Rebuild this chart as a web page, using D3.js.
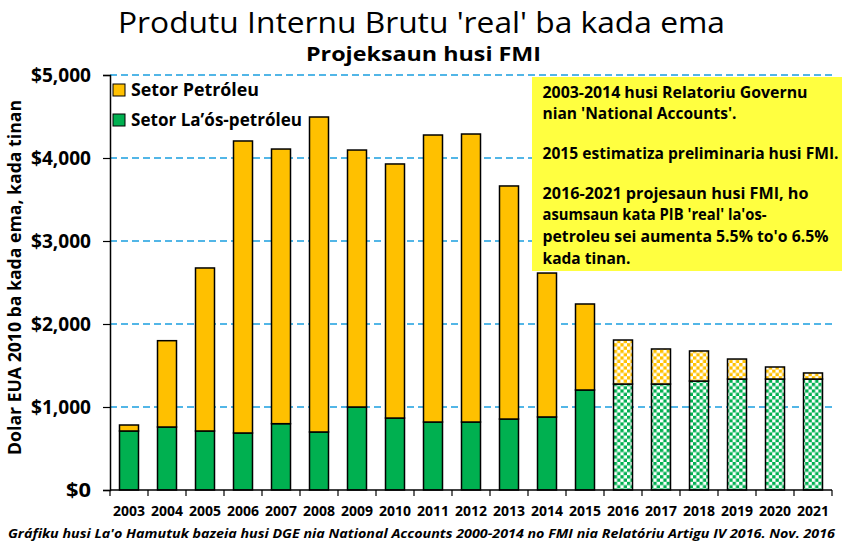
<!DOCTYPE html>
<html>
<head>
<meta charset="utf-8">
<script src="https://cdn.jsdelivr.net/npm/d3@7"></script>
<style>
  body { margin: 0; background: #fff; }
  text { font-family: "Open Sans", Lato, sans-serif; fill: #000; }
</style>
</head>
<body>
<script>
// data
const years = ["2003", "2004", "2005", "2006", "2007", "2008", "2009", "2010", "2011", "2012",
  "2013", "2014", "2015", "2016", "2017", "2018", "2019", "2020", "2021"];
const nonOil = [711, 759, 711, 687, 799, 699, 1000, 867, 819, 819,
  855, 880, 1205, 1277, 1277, 1313, 1337, 1337, 1337];
const oil = [72, 1040, 1964, 3518, 3309, 3795, 3096, 3061, 3458, 3470,
  2808, 1734, 1036, 530, 422, 362, 241, 145, 73];
const projected = ["2016", "2017", "2018", "2019", "2020", "2021"];
const yTicks = [0, 1000, 2000, 3000, 4000, 5000];
const seriesNames = ["Setor Petróleu", "Setor La’ós-petróleu"];
const noteLines = [
  "2003-2014 husi Relatoriu Governu",
  "nian 'National Accounts'.",
  "",
  "2015 estimatiza preliminaria husi FMI.",
  "",
  "2016-2021 projesaun husi FMI, ho",
  "asumsaun kata PIB 'real' la'os-",
  "petroleu sei aumenta 5.5% to'o 6.5%",
  "kada tinan."
];

const width = 845;
const height = 546;
const oilColor = "#ffc000";
const nonOilColor = "#00b050";

let svg = d3.select("body")
  .append("svg")
  .attr("width", width)
  .attr("height", height);

// checker patterns for projected years
let defs = svg.append("defs");
[["chkOil", oilColor], ["chkNon", nonOilColor]].forEach(([id, c]) => {
  let p = defs.append("pattern")
    .attr("id", id)
    .attr("patternUnits", "userSpaceOnUse")
    .attr("width", 6.6)
    .attr("height", 6.6);
  p.append("rect").attr("width", 6.6).attr("height", 6.6).attr("fill", "#fff");
  p.append("rect").attr("width", 3.3).attr("height", 3.3).attr("fill", c);
  p.append("rect").attr("x", 3.3).attr("y", 3.3).attr("width", 3.3).attr("height", 3.3).attr("fill", c);
});

let x = d3.scaleBand().domain(years).range([110, 832]).paddingInner(0.5).paddingOuter(0.25);
let y = d3.scaleLinear().domain([0, 5000]).range([490, 75]);

// gridlines
svg.append("g")
  .selectAll("line")
  .data(yTicks.filter((d) => d > 0))
  .enter()
  .append("line")
  .attr("x1", 110)
  .attr("x2", 832)
  .attr("y1", (d) => y(d))
  .attr("y2", (d) => y(d))
  .attr("stroke", "#1a9fe0")
  .attr("stroke-width", 1.3)
  .attr("stroke-dasharray", "7,4");

// stacked bars
let bars = svg.append("g");
years.forEach((yr, i) => {
  let proj = projected.includes(yr);
  bars.append("rect")
    .attr("x", x(yr))
    .attr("width", x.bandwidth())
    .attr("y", y(nonOil[i]))
    .attr("height", y(0) - y(nonOil[i]))
    .attr("fill", proj ? "url(#chkNon)" : nonOilColor)
    .attr("stroke", "#000")
    .attr("stroke-width", 1.5);
  bars.append("rect")
    .attr("x", x(yr))
    .attr("width", x.bandwidth())
    .attr("y", y(nonOil[i] + oil[i]))
    .attr("height", y(nonOil[i]) - y(nonOil[i] + oil[i]))
    .attr("fill", proj ? "url(#chkOil)" : oilColor)
    .attr("stroke", "#000")
    .attr("stroke-width", 1.5);
});

// y axis
let yAxis = svg.append("g")
  .attr("transform", "translate(110,0)")
  .call(d3.axisLeft(y).tickValues(yTicks).tickSize(7).tickPadding(12)
    .tickFormat((d) => "$" + d3.format(",")(d)));
yAxis.select(".domain").attr("stroke", "#000").attr("stroke-width", 1.5);
yAxis.selectAll(".tick line").attr("stroke", "#000").attr("stroke-width", 1.2);
yAxis.selectAll("text")
  .attr("font-size", 19)
  .attr("font-weight", "bold")
  .attr("font-family", "'Open Sans', sans-serif")
  .attr("textLength", (d) => (d === 0 ? 25 : 60))
  .attr("lengthAdjust", "spacingAndGlyphs")
  .attr("fill", "#000");

// x axis
let xEdge = d3.scaleLinear().domain([0, years.length]).range([110, 832]);
svg.append("line")
  .attr("x1", 110).attr("x2", 832)
  .attr("y1", y(0)).attr("y2", y(0))
  .attr("stroke", "#000").attr("stroke-width", 1.5);
svg.append("g")
  .selectAll("line")
  .data(d3.range(years.length + 1))
  .enter()
  .append("line")
  .attr("x1", (d) => xEdge(d))
  .attr("x2", (d) => xEdge(d))
  .attr("y1", y(0))
  .attr("y2", y(0) + 6)
  .attr("stroke", "#000")
  .attr("stroke-width", 1.2);
svg.append("g")
  .selectAll("text")
  .data(years)
  .enter()
  .append("text")
  .attr("x", (d) => x(d) + x.bandwidth() / 2)
  .attr("y", 516)
  .attr("text-anchor", "middle")
  .attr("font-size", 14.5)
  .attr("font-weight", "bold")
  .attr("textLength", 32)
  .attr("lengthAdjust", "spacingAndGlyphs")
  .text((d) => d);

// titles
svg.append("text")
  .attr("x", 118).attr("y", 32.5)
  .attr("font-size", 30)
  .attr("textLength", 607)
  .attr("lengthAdjust", "spacingAndGlyphs")
  .text("Produtu Internu Brutu 'real' ba kada ema");
svg.append("text")
  .attr("x", 306).attr("y", 61)
  .attr("font-size", 19.5)
  .attr("font-weight", "bold")
  .attr("textLength", 235)
  .attr("lengthAdjust", "spacingAndGlyphs")
  .text("Projeksaun husi FMI");

svg.append("text")
  .attr("transform", "translate(21,455) rotate(-90)")
  .attr("font-size", 17)
  .attr("font-weight", "bold")
  .attr("textLength", 355)
  .attr("lengthAdjust", "spacingAndGlyphs")
  .text("Dolar EUA 2010 ba kada ema, kada tinan");

// legend
let legend = svg.append("g").attr("transform", "translate(113,84)");
legend.selectAll("rect")
  .data([oilColor, nonOilColor])
  .enter()
  .append("rect")
  .attr("x", 0)
  .attr("y", (d, i) => i * 30)
  .attr("width", 12)
  .attr("height", 12)
  .attr("fill", (d) => d)
  .attr("stroke", "#000")
  .attr("stroke-width", 1);
legend.selectAll("text")
  .data(seriesNames)
  .enter()
  .append("text")
  .attr("x", 18)
  .attr("y", (d, i) => i * 30 + 12)
  .attr("font-size", 17)
  .attr("font-weight", "bold")
  .attr("textLength", (d, i) => [128, 171][i])
  .attr("lengthAdjust", "spacingAndGlyphs")
  .text((d) => d);

// note box
svg.append("rect")
  .attr("x", 532).attr("y", 77)
  .attr("width", 310).attr("height", 194)
  .attr("fill", "#ffff40");
let lineY = [97.5, 118.5, 0, 158.5, 0, 198.5, 219.5, 242, 264];
let noteLen = [265, 194, 0, 296, 0, 266, 224, 286, 88];
svg.append("g")
  .selectAll("text")
  .data(noteLines.map((t, i) => ({ t: t, y: lineY[i], w: noteLen[i] })).filter((d) => d.t))
  .enter()
  .append("text")
  .attr("x", 542.5)
  .attr("y", (d) => d.y)
  .attr("font-size", 16)
  .attr("font-weight", "bold")
  .attr("textLength", (d) => d.w)
  .attr("lengthAdjust", "spacingAndGlyphs")
  .text((d) => d.t);

// footnote
svg.append("text")
  .attr("x", 8).attr("y", 538)
  .attr("font-size", 13)
  .attr("font-weight", "bold")
  .attr("font-style", "italic")
  .attr("textLength", 827)
  .attr("lengthAdjust", "spacingAndGlyphs")
  .text("Gráfiku husi La'o Hamutuk bazeia husi DGE nia National Accounts 2000-2014 no FMI nia Relatóriu Artigu IV 2016.  Nov. 2016");
</script>
</body>
</html>
